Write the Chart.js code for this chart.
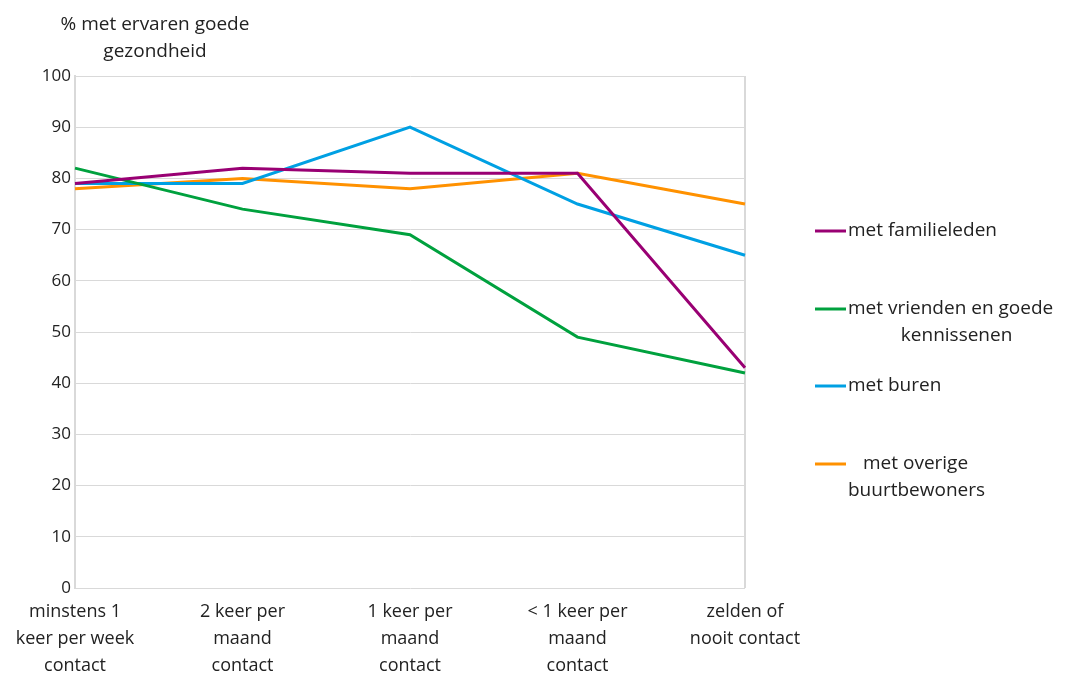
<!DOCTYPE html>
<html>
<head>
<meta charset="utf-8">
<script src="https://cdn.jsdelivr.net/npm/chart.js@4"></script>
<style>
  body { margin: 0; background: #fff; }
  #wrap { width: 1069px; height: 673px; }
</style>
</head>
<body>
<div id="wrap"><canvas id="myChart" width="1069" height="673"></canvas></div>
<script>
// data
var categories = [
  ["minstens 1", "keer per week", "contact"],
  ["2 keer per", "maand", "contact"],
  ["1 keer per", "maand", "contact"],
  ["< 1 keer per", "maand", "contact"],
  ["zelden of", "nooit contact"]
];
var familieleden = [79, 82, 81, 81, 43];
var vrienden = [82, 74, 69, 49, 42];
var buren = [79, 79, 90, 75, 65];
var overige = [78, 80, 78, 81, 75];
var seriesNames = [
  ["met familieleden"],
  ["met vrienden en goede", "kennissenen"],
  ["met buren"],
  ["met overige", "buurtbewoners"]
];
var colors = ["#990073", "#00a13e", "#00a0e3", "#ff9100"];
var yTitle = ["% met ervaren goede", "gezondheid"];

var fontName = "'Open Sans', Lato, sans-serif";
var textColor = "#222";

/* title + legend drawn on the canvas */
var extras = {
  id: 'extras',
  afterDraw: function(chart) {
    var ctx = chart.ctx;
    ctx.save();
    ctx.fillStyle = textColor;
    ctx.font = "19px " + fontName;
    ctx.textBaseline = "middle";
    ctx.textAlign = "center";
    ctx.fillText(yTitle[0], 155, 25);
    ctx.fillText(yTitle[1], 155, 52);

    var legendY = [231, 309, 386, 464];
    for (var i = 0; i < seriesNames.length; i++) {
      var y = legendY[i];
      ctx.strokeStyle = colors[i];
      ctx.lineWidth = 3;
      ctx.beginPath();
      ctx.moveTo(815, y);
      ctx.lineTo(846, y);
      ctx.stroke();
      var lines = seriesNames[i];
      ctx.textAlign = "left";
      if (i == 3) {
        ctx.fillText(lines[0], 863, y);
        ctx.fillText(lines[1], 848, y + 27);
      } else if (lines.length > 1) {
        ctx.fillText(lines[0], 848, y);
        ctx.textAlign = "center";
        var w = ctx.measureText(lines[0]).width;
        ctx.fillText(lines[1], 848 + w / 2 + 6, y + 27);
      } else {
        ctx.fillText(lines[0], 848, y);
      }
    }
    ctx.restore();
  }
};

function makeSet(i, values) {
  return {
    label: seriesNames[i].join(" "),
    data: values,
    borderColor: colors[i],
    backgroundColor: colors[i],
    borderWidth: 3,
    pointRadius: 0,
    tension: 0,
    fill: false
  };
}

var canvas = document.getElementById("myChart");
var chart = new Chart(canvas, {
  type: 'line',
  data: {
    labels: categories,
    datasets: [
      makeSet(0, familieleden),
      makeSet(1, vrienden),
      makeSet(2, buren),
      makeSet(3, overige)
    ]
  },
  options: {
    responsive: false,
    animation: false,
    layout: { padding: { top: 76, right: 324, left: 0, bottom: 0 } },
    plugins: {
      legend: { display: false },
      title: { display: false },
      tooltip: { enabled: false }
    },
    scales: {
      x: {
        offset: false,
        afterFit: function(scale) { scale.height = 85; },
        grid: {
          drawTicks: false,
          color: function(c) { return c.index == categories.length - 1 ? "#d9d9d9" : "rgba(0,0,0,0)"; },
          lineWidth: 2
        },
        border: { display: false },
        ticks: {
          maxRotation: 0,
          autoSkip: false,
          padding: 10,
          color: textColor,
          font: { family: fontName, size: 18, lineHeight: 1.5 }
        }
      },
      y: {
        min: 0,
        max: 100,
        afterFit: function(scale) { scale.width = 75; },
        grid: { color: "#d9d9d9", lineWidth: 1, drawTicks: false },
        border: { display: true, color: "#d9d9d9", width: 2 },
        ticks: {
          stepSize: 10,
          padding: 4,
          color: textColor,
          font: { family: fontName, size: 17 }
        }
      }
    }
  },
  plugins: [extras]
});
</script>
</body>
</html>
